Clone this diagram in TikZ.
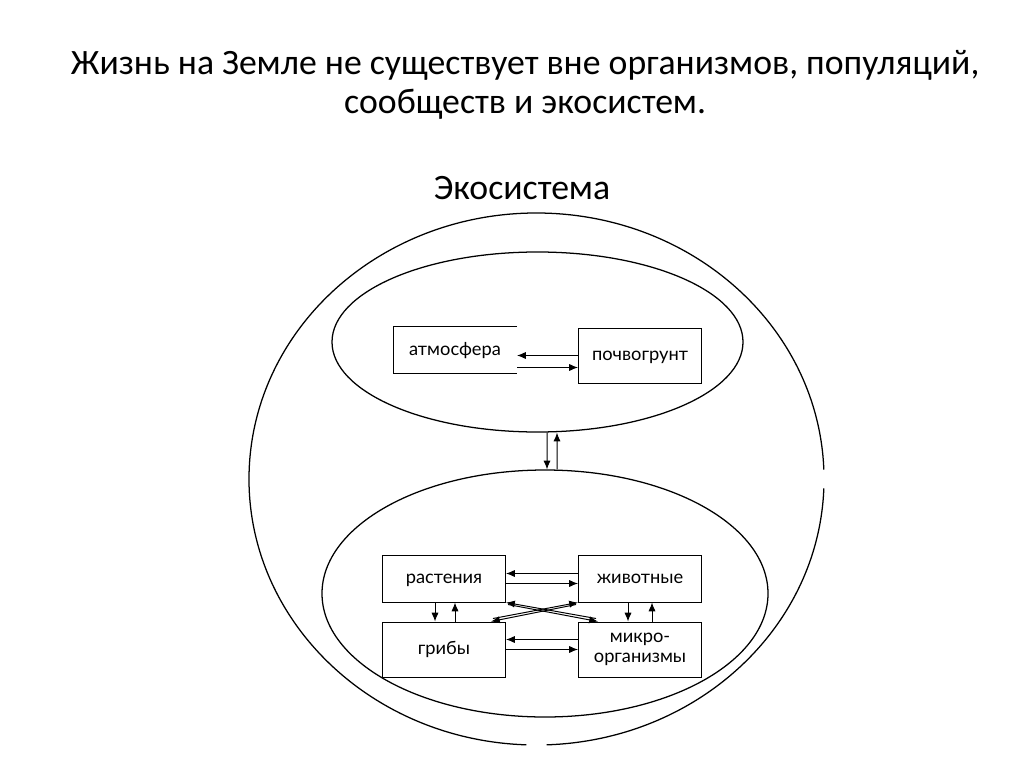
\documentclass[tikz,border=0pt]{standalone}
\usepackage{fontspec}
\setmainfont{Carlito}
\newfontfamily\boxfont{Lato}
\usetikzlibrary{positioning,shapes.geometric,arrows.meta,calc}
\newcommand{\pxu}{0.025cm}

\begin{document}
\begin{tikzpicture}[x=\pxu,y=-\pxu,>={Latex[length=2.2mm,width=1.8mm]},
  every node/.style={inner sep=0pt},
  unit/.style={draw,line width=0.7pt,minimum width=123*\pxu,
    font=\boxfont\fontsize{13}{14}\selectfont},
  onerow/.style={text height=1.6ex,text depth=0.1ex},
  zone/.style={ellipse,draw,line width=0.9pt},
  link/.style={->,line width=0.7pt}]
  \useasboundingbox (0,0) rectangle (1024,767);
  \node[font=\fontsize{25.4}{27.5}\selectfont,align=center] (title) at (525,85)
    {Жизнь на Земле не существует вне организмов, популяций,\\сообществ и экосистем.};
  \node[font=\fontsize{25.4}{26.5}\selectfont] (econame) at (522,188) {Экосистема};
  % outer ellipse, with its two breaks
  \draw[line width=0.9pt] (536.5,479) ++(2:287.5 and 266)
    arc[start angle=2,end angle=88,x radius=287.5,y radius=266];
  \draw[line width=0.9pt] (536.5,479) ++(92:287.5 and 266)
    arc[start angle=92,end angle=358,x radius=287.5,y radius=266];
  \node[zone,minimum width=411*\pxu,minimum height=180*\pxu] (abio) at (537.5,342) {};
  \node[zone,minimum width=446*\pxu,minimum height=247*\pxu] (bio) at (545,593.5) {};
  % upper part
  \node[unit,onerow,draw=none,minimum height=46*\pxu] (atm) at (455,350) {атмосфера};
  \draw[line width=0.7pt] (atm.north east) -- (atm.north west) -- (atm.south west) -- (atm.south east);
  \node[unit,onerow,minimum height=55*\pxu] (pochv) at (640,355.5) {почвогрунт};
  \draw[link] (pochv.west) -- (pochv.west -| atm.east);
  \draw[link] ($(pochv.west -| atm.east)+(0,12)$) -- ($(pochv.west)+(0,12)$);
  % lower part
  \node[unit,onerow,minimum height=47*\pxu] (rast) at (444,578.5) {растения};
  \node[unit,onerow,minimum height=47*\pxu] (zhiv) at (640,578.5) {животные};
  \node[unit,onerow,minimum height=55*\pxu] (grib) at (444,649.5) {грибы};
  \node[unit,minimum height=55*\pxu,align=center] (mikro) at (640,649.5) {микро-\\организмы};
  \draw[link] ($(zhiv.west)+(0,-5)$) -- ($(rast.east)+(0,-5)$);
  \draw[link] ($(rast.east)+(0,5)$) -- ($(zhiv.west)+(0,5)$);
  \draw[link] ($(mikro.west)+(0,-10)$) -- ($(grib.east)+(0,-10)$);
  \draw[link] (grib.east) -- (mikro.west);
  \draw[link] ($(rast.south)+(-9,0)$) -- ($(grib.north)+(-9,0)$);
  \draw[link] ($(grib.north)+(11,0)$) -- ($(rast.south)+(11,0)$);
  \draw[link] ($(zhiv.south)+(-12,0)$) -- ($(mikro.north)+(-12,0)$);
  \draw[link] ($(mikro.north)+(12,0)$) -- ($(zhiv.south)+(12,0)$);
  \draw[link] ($(rast.south east)+(2,2)$) -- ($(mikro.north west)+(20,0)$);
  \draw[link] ($(mikro.north west)+(18,-3)$) -- (rast.south east);
  \draw[link] ($(zhiv.south west)+(-2,2)$) -- ($(grib.north east)+(-15,0)$);
  \draw[link] ($(grib.north east)+(-13,-3)$) -- (zhiv.south west);
  % between the two parts
  \draw[link] ($(abio.south)+(9.5,0)$) -- ($(bio.north)+(2,0)$);
  \draw[link] ($(bio.north)+(12,0)$) -- ($(abio.south)+(19.5,0)$);
\end{tikzpicture}
\end{document}
